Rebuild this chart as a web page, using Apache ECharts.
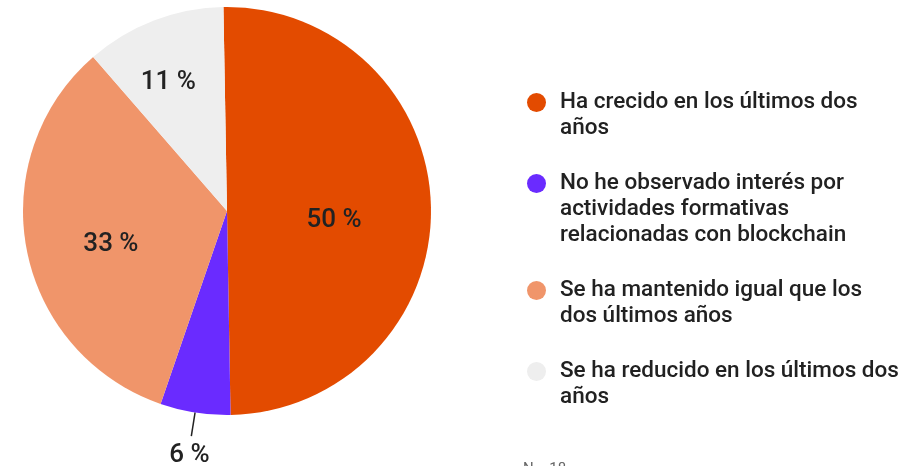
<!DOCTYPE html>
<html>
<head>
<meta charset="utf-8">
<script src="https://cdn.jsdelivr.net/npm/echarts@6/dist/echarts.min.js"></script>
<style>
html,body{margin:0;padding:0;background:#fff;}
#main{width:924px;height:466px;}
</style>
</head>
<body>
<div id="main"></div>
<script>
// respuestas (N = 18)
var categorias = [
	'Ha crecido en los últimos dos\naños',
	'No he observado interés por\nactividades formativas\nrelacionadas con blockchain',
	'Se ha mantenido igual que los\ndos últimos años',
	'Se ha reducido en los últimos dos\naños'
];
var valores = [9, 1, 6, 2];
var colores = ['#e34b00', '#6a2bff', '#f0956a', '#eeeeee'];
var nota = 'N = 18';

// ajustes de posicion de etiquetas (solo maquetacion)
var desplaza = [[2, 11], [0, 0], [-13, 13], [-21, -30]];

var myChart = echarts.init(document.getElementById('main'));

var rich = {
	t: {fontFamily: 'Roboto', fontWeight: 500, fontSize: 22.5, color: '#212121', lineHeight: 26},
	g: {width: 14},
	s: {width: 33}
};
for (var i = 0; i < colores.length; i++) {
	rich['d' + i] = {width: 19, height: 19, borderRadius: 9.5, backgroundColor: colores[i]};
}

var datos = [];
for (var i = 0; i < categorias.length; i++) {
	var item = {name: categorias[i], value: valores[i]};
	if (i == 1) {
		item.label = {position: 'outside', distanceToLabelLine: 0};
		item.labelLine = {show: true, length: 24, length2: 0, lineStyle: {color: '#222', width: 1.5}};
	}
	datos.push(item);
}

var option = {
	animation: false,
	color: colores,
	legend: {
		orient: 'vertical',
		left: 517,
		top: 86,
		itemWidth: 0,
		itemHeight: 0,
		itemGap: 32,
		icon: 'rect',
		selectedMode: false,
		data: categorias,
		textStyle: {rich: rich},
		formatter: function (name) {
			var idx = categorias.indexOf(name);
			var lineas = name.split('\n');
			var s = '{d' + idx + '|}{g|}{t|' + lineas[0] + '}';
			for (var k = 1; k < lineas.length; k++) {
				s += '\n{s|}{t|' + lineas[k] + '}';
			}
			return s;
		}
	},
	graphic: [{
		type: 'text',
		left: 523,
		top: 462,
		style: {text: nota, fontFamily: 'Roboto', fontSize: 15, fill: '#666'}
	}],
	series: [{
		type: 'pie',
		center: [227, 211],
		radius: 204,
		startAngle: 91,
		clockwise: true,
		data: datos,
		itemStyle: {borderWidth: 0},
		label: {
			show: true,
			position: 'inside',
			fontFamily: 'Roboto',
			fontWeight: 500,
			fontSize: 26,
			color: '#222',
			formatter: function (p) {
				return Math.round(p.percent) + ' %';
			}
		},
		labelLine: {show: false},
		labelLayout: function (p) {
			if (p.dataIndex == 1) {
				return {align: 'center', verticalAlign: 'top', dx: -2, dy: 6};
			}
			return {dx: desplaza[p.dataIndex][0], dy: desplaza[p.dataIndex][1]};
		},
		emphasis: {disabled: true}
	}]
};
myChart.setOption(option);
</script>
</body>
</html>
